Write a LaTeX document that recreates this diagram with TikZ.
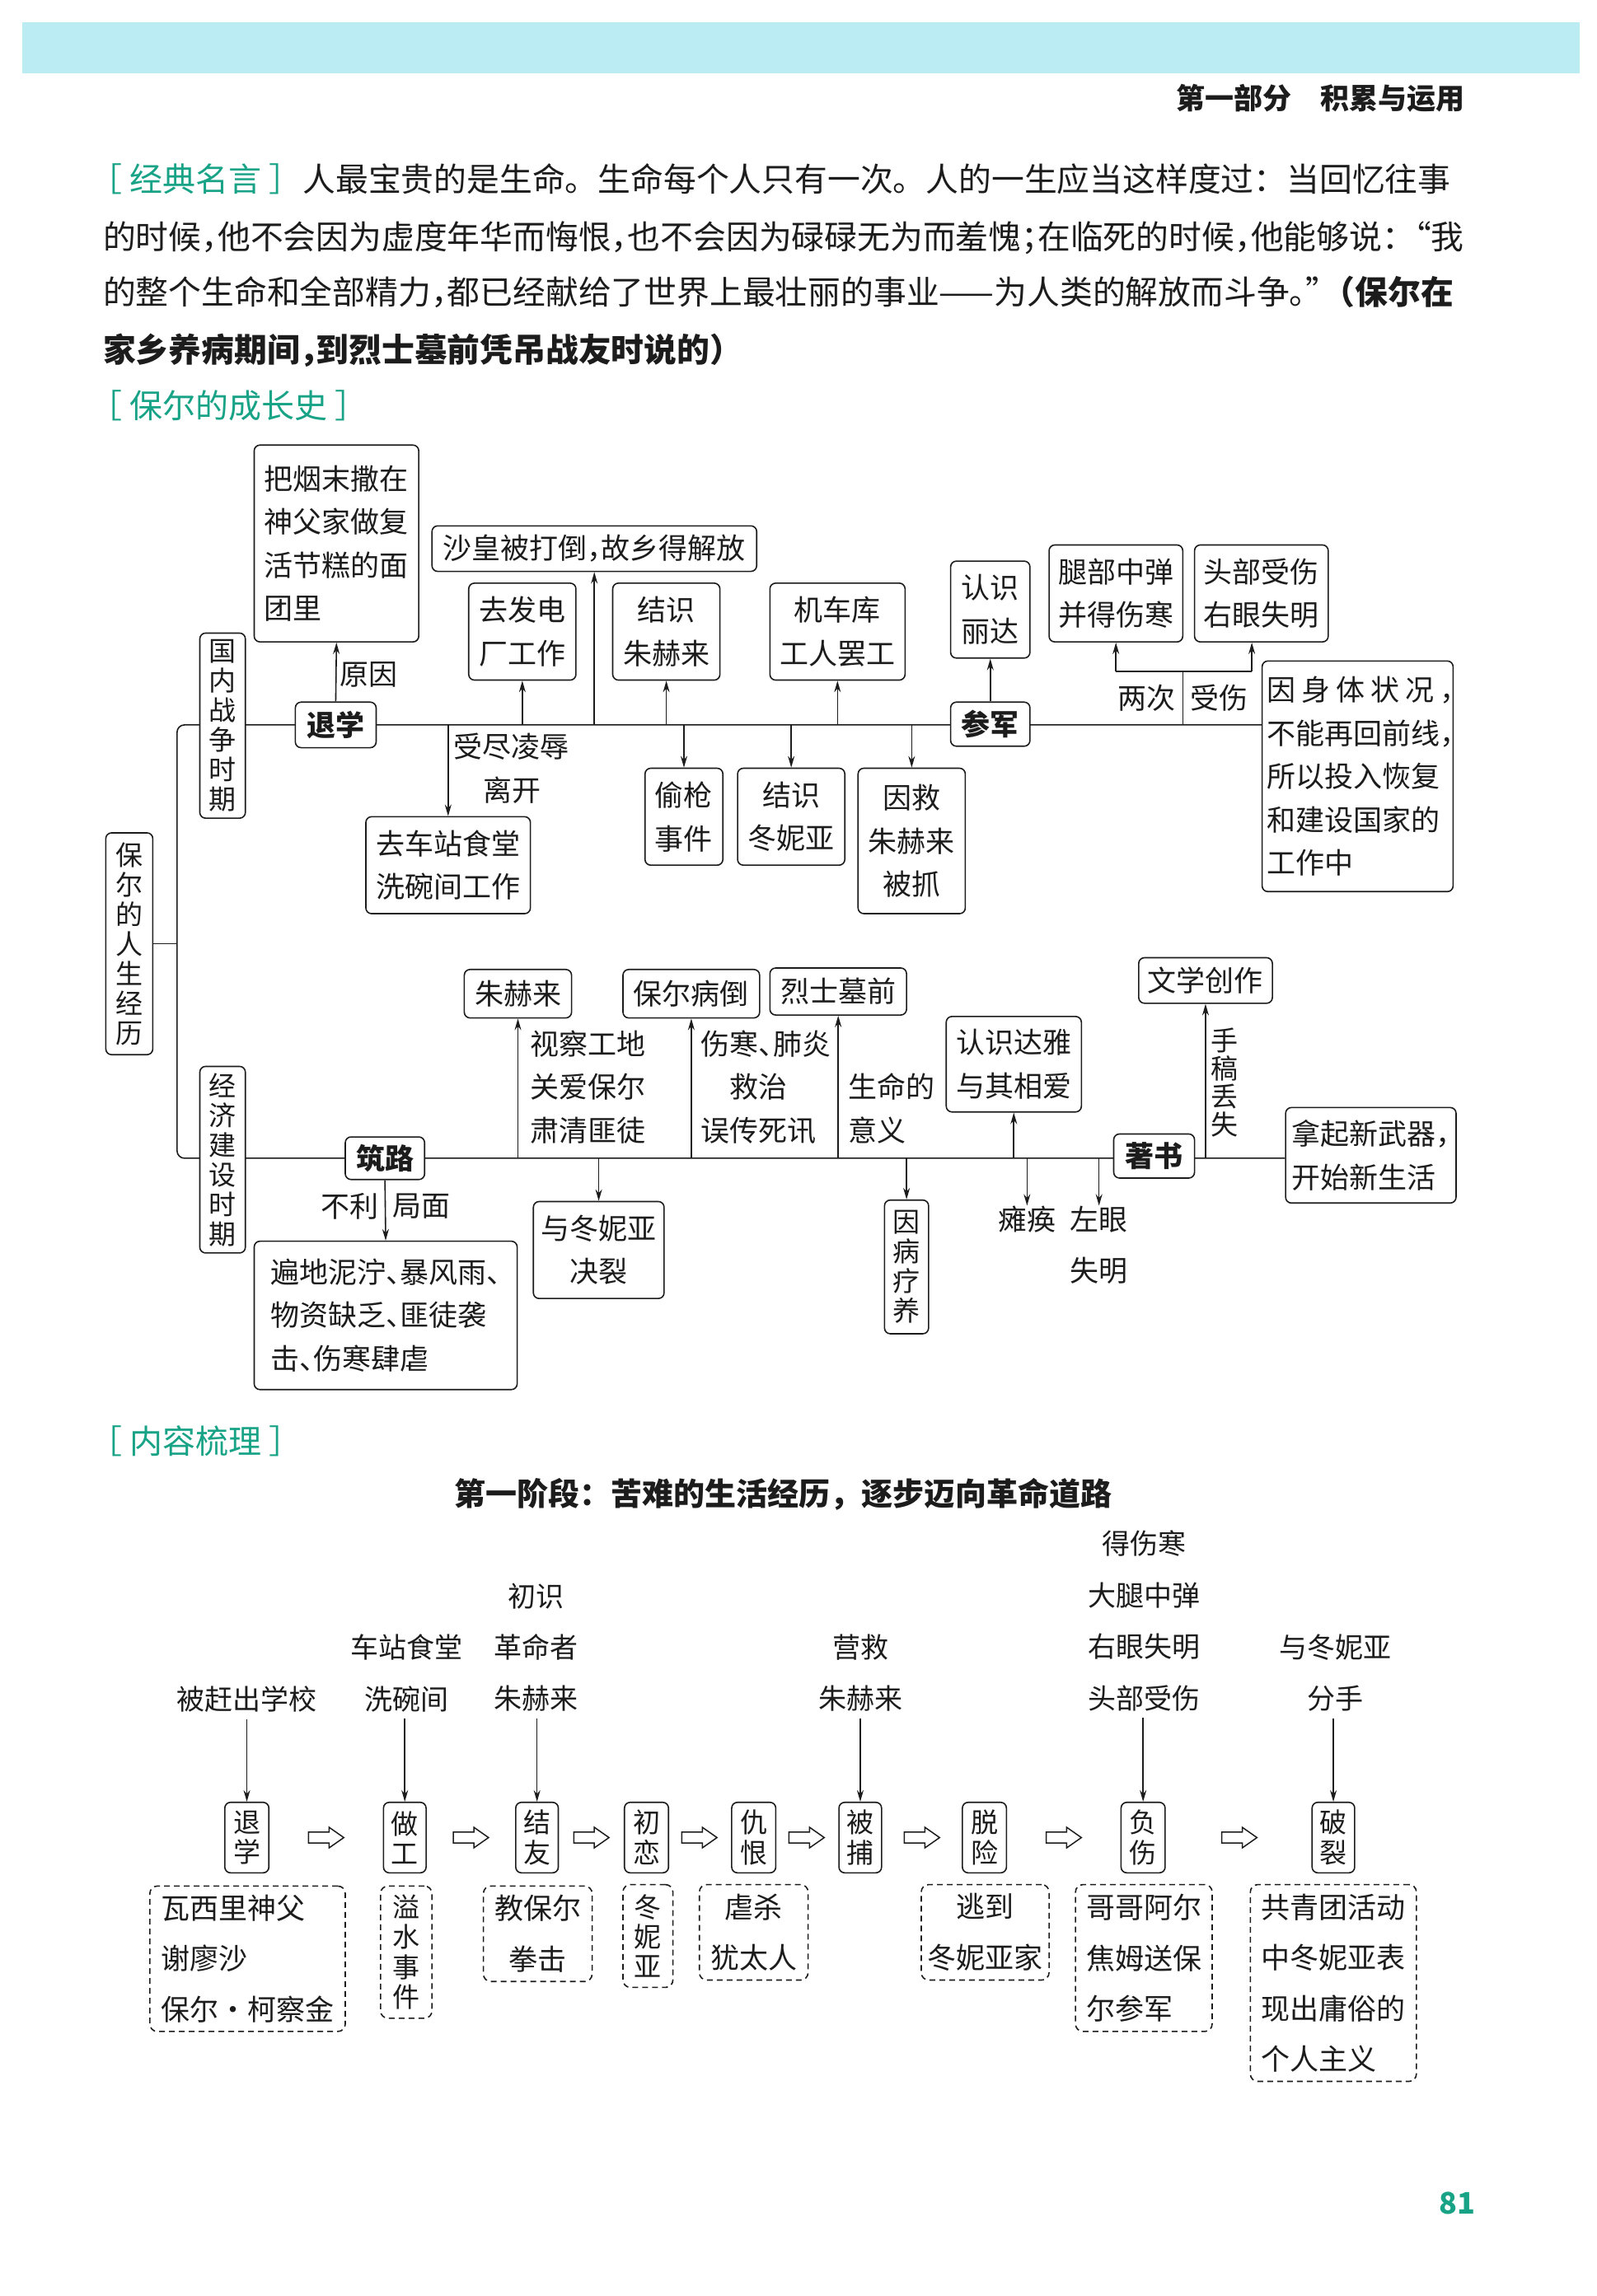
\documentclass[tikz,border=0pt]{standalone}
\usepackage{fontspec}
\setmainfont{Noto Sans CJK SC}
\usetikzlibrary{arrows.meta,backgrounds}
\definecolor{tealc}{RGB}{24,163,135}
\definecolor{band}{RGB}{188,236,243}
\definecolor{ink}{RGB}{28,28,28}
\newcommand\fs[2]{\fontsize{#1pt}{#2pt}\selectfont}
\newcommand\hcm[1][.5em]{\makebox[#1][l]{，}}
\newcommand\hdn{\makebox[.5em][l]{、}}
\newcommand\hl[1]{\makebox[.5em][l]{#1}}
\newcommand\BX[7]{\node[#1,minimum width={(#5-#3)*1.783pt},minimum height={(#6-#4)*1.783pt}] (#2) at ({(#3+#5)/2},{(#4+#6)/2}) {#7};}
\begin{document}
\begin{tikzpicture}[x=1.783pt,y=-1.783pt,
 ln/.style={draw=ink,line width=1.6pt},
 arr/.style={ln,-{Stealth[length=14pt,width=8pt]}},
 bx/.style={draw=ink,fill=white,line width=1.6pt,rounded corners=7pt,inner sep=0pt,align=center,text=ink,font=\fs{35}{52.6}},
 bxl/.style={bx,align=left},
 bb/.style={bx,font=\bfseries\fs{35}{40}},
 vt/.style={bx,font=\fs{33}{36}},
 vb/.style={bx,font=\fs{33}{36.7}},
 db/.style={draw=ink,fill=white,line width=1.6pt,dash pattern=on 7pt off 5pt,rounded corners=9pt,inner sep=0pt,align=center,text=ink,font=\fs{35}{61.5}},
 dbl/.style={db,align=left},
 dbv/.style={db,font=\fs{33}{36.4}},
 lb/.style={inner sep=0pt,text=ink,font=\fs{35}{52.6}},
 tl/.style={inner sep=0pt,text=ink,align=center,font=\fs{34}{62.4}},
 para/.style={inner sep=0pt,anchor=base west,text=ink},
 hol/.style={draw=ink,fill=white,line width=1.5pt,line join=miter}]
\useasboundingbox (0,0) rectangle (1086.9,1563.1);
\begin{pgfonlayer}{background}
\fill[white] (0,0) rectangle (1086.9,1563.1);
\end{pgfonlayer}
% header
\fill[band] (15,15) rectangle (1075,50);
\node[inner sep=0pt,anchor=base east,font=\bfseries\fs{35}{40},text=ink] (hdr) at (997,74.5) {第一部分\hspace{1em}积累与运用};
% quote paragraph
\node[para,font=\fs{40}{48},text=tealc] (t1) at (61,130.5) {［\kern.22em 经典名言\kern.22em］};
\node[para,font=\fs{39.8}{48}] (p1) at (206,130.5) {人最宝贵的是生命。生命每个人只有一次。人的一生应当这样度过：当回忆往事};
\node[para,font=\fs{39.8}{48}] (p2) at (70,169.5) {的时候\hl{，}他不会因为虚度年华而悔恨\hl{，}也不会因为碌碌无为而羞愧\hl{；}在临死的时候\hl{，}他能够说\hl{：}“我};
\node[para,font=\fs{39.8}{48}] (p3) at (70,207.5) {的整个生命和全部精力\hl{，}都已经献给了世界上最壮丽的事业——为人类的解放而斗争\hl{。}\hl{”}\textbf{（保尔在}};
\node[para,font=\bfseries\fs{39.8}{48}] (p4) at (70,246.5) {家乡养病期间\hl{，}到烈士墓前凭吊战友时说的）};
\node[para,font=\fs{40}{48},text=tealc] (t2) at (61,284.5) {［\kern.22em 保尔的成长史\kern.22em］};
% ---------- tree ----------
\BX{vt}{root}{72}{567}{104}{718}{保\\尔\\的\\人\\生\\经\\历}
\BX{vt}{gn}{136}{431}{167}{557}{国\\内\\战\\争\\时\\期}
\BX{vt}{jj}{136}{726}{167}{853}{经\\济\\建\\设\\时\\期}
\BX{bb}{tx}{201}{478}{256}{509}{退学}
\BX{bb}{cj}{647}{478}{701}{508}{参军}
\BX{bb}{zl}{235}{774}{289}{803}{筑路}
\BX{bb}{zsh}{758}{772}{813}{802}{著书}
\BX{bxl}{yan}{173}{303}{285}{437}{把烟末撒在\\神父家做复\\活节糕的面\\团里}
\BX{bx}{sh}{294}{358}{515}{389}{沙皇被打倒\hcm 故乡得解放}
\BX{bx}{fd}{319}{397}{392}{463}{去发电\\厂工作}
\BX{bx}{zs}{417}{397}{490}{463}{结识\\朱赫来}
\BX{bx}{jc}{524}{397}{616}{463}{机车库\\工人罢工}
\BX{bx}{ld}{647}{382}{701}{448}{认识\\丽达}
\BX{bx}{tb}{714}{371}{805}{437}{腿部中弹\\并得伤寒}
\BX{bx}{ts}{813}{371}{904}{437}{头部受伤\\右眼失明}
\BX{bxl}{ys}{859}{450}{989}{607}{\makebox[6.3em][s]{因\hfill 身\hfill 体\hfill 状\hfill 况\hfill\hcm[.3em]}\\不能再回前线\hcm[.3em]\\所以投入恢复\\和建设国家的\\工作中}
\BX{bx}{tq}{439}{523}{492}{589}{偷枪\\事件}
\BX{bx}{jd}{502}{523}{575}{589}{结识\\冬妮亚}
\BX{bx}{jz}{584}{523}{657}{622}{因救\\朱赫来\\被抓}
\BX{bx}{qc}{249}{556}{361}{622}{去车站食堂\\洗碗间工作}
\BX{bx}{zh}{316}{660}{389}{693}{朱赫来}
\BX{bx}{bd}{424}{660}{517}{693}{保尔病倒}
\BX{bx}{ls}{524}{659}{617}{691}{烈士墓前}
\BX{bx}{dy}{644}{692}{736}{757}{认识达雅\\与其相爱}
\BX{bx}{wx}{775}{652}{866}{683}{文学创作}
\BX{bxl}{nq}{875}{754}{991}{819}{拿起新武器\hcm\\开始新生活}
\BX{bx}{jl}{363}{818}{452}{884}{与冬妮亚\\决裂}
\BX{vt}{yb}{602}{817}{632}{908}{因\\病\\疗\\养}
\BX{bxl}{bdn}{173}{845}{352}{946}{遍地泥泞\hdn 暴风雨\hdn\\物资缺乏\hdn 匪徒袭\\击\hdn 伤寒肆虐}
% labels
\node[lb] (ly) at (251,459) {原因};
\node[lb] (lsj) at (348,508) {受尽凌辱};
\node[lb] (llk) at (348.5,538) {离开};
\node[lb] (lrc) at (780.5,475) {两次};
\node[lb] (lss) at (830,475) {受伤};
\node[lb,anchor=west,align=left] (lsc) at (361,740) {视察工地\\关爱保尔\\肃清匪徒};
\node[lb,anchor=west,align=left] (lsh) at (477,740) {伤寒\hdn 肺炎\\\hspace*{1em}救治\\误传死讯};
\node[lb,anchor=west,align=left] (lsm) at (577,754.5) {生命的\\意义};
\node[lb] (lbl) at (238,821) {不利};
\node[lb] (ljm) at (287,821) {局面};
\node[lb] (ltt) at (699,830) {瘫痪};
\node[lb,align=center,font=\fs{35}{62.4}] (lzy) at (748,847.5) {左眼\\失明};
\node[lb,align=center,font=\fs{33}{34}] (lsg) at (833.5,737) {手\\稿\\丢\\失};
% main lines
\begin{pgfonlayer}{background}
\coordinate (brk) at (120.5,642.5);
\draw[ln] (root.east) -- (brk);
\draw[ln,rounded corners=9pt] (ys.west |- tx) -- (brk |- tx) -- (brk |- zl) -- (nq.west |- zl);
\end{pgfonlayer}
% upper arrows
\draw[arr] (tx.north) -- (yan.south);
\draw[arr] (sh.south |- tx) -- (sh.south);
\draw[arr] (fd.south |- tx) -- (fd.south);
\draw[arr] (zs.south |- tx) -- (zs.south);
\draw[arr] (jc.south |- tx) -- (jc.south);
\draw[arr] (cj.north) -- (ld.south);
\draw[arr] (qc.north |- tx) -- (qc.north);
\draw[arr] (tq.north |- tx) -- (tq.north);
\draw[arr] (jd.north |- tx) -- (jd.north);
\draw[arr] (jz.north |- tx) -- (jz.north);
\coordinate (sj) at (805,457);
\coordinate (sjr) at (852,457);
\draw[ln] (sj |- tx) -- (sj);
\draw[ln] (tb.south |- sj) -- (sjr);
\draw[arr] (tb.south |- sj) -- (tb.south);
\draw[arr] (sjr) -- (sjr |- ts.south);
% lower arrows
\draw[arr] (zh.south |- zl) -- (zh.south);
\draw[arr] (bd.south |- zl) -- (bd.south);
\draw[arr] (ls.south |- zl) -- (ls.south);
\draw[arr] (dy.south |- zl) -- (dy.south);
\draw[arr] (wx.south |- zl) -- (wx.south);
\draw[arr] (jl.north |- zl) -- (jl.north);
\draw[arr] (yb.north |- zl) -- (yb.north);
\draw[arr] (ltt.north |- zl) -- (ltt.north);
\draw[arr] (lzy.north |- zl) -- (lzy.north);
\draw[arr] (zl.south) -- (bdn.north);
% ---------- bottom section ----------
\node[para,font=\fs{40}{48},text=tealc] (t3) at (61,989.5) {［\kern.22em 内容梳理\kern.22em］};
\node[inner sep=0pt,anchor=base,font=\bfseries\fs{38}{40},text=ink] (t4) at (533,1025) {第一阶段：苦难的生活经历，逐步迈向革命道路};
\node[tl] (a1) at (168,1157) {被赶出学校};
\node[tl] (a2) at (277,1139) {车站食堂\\洗碗间};
\node[tl] (a3) at (365,1121.5) {初识\\革命者\\朱赫来};
\node[tl] (a4) at (586,1139) {营救\\朱赫来};
\node[tl] (a5) at (779,1103.5) {得伤寒\\大腿中弹\\右眼失明\\头部受伤};
\node[tl] (a6) at (908.6,1139) {与冬妮亚\\分手};
\BX{vb}{b1}{153}{1227}{183}{1275}{退\\学}
\BX{vb}{b2}{261}{1227}{290}{1275}{做\\工}
\BX{vb}{b3}{351}{1227}{380}{1275}{结\\友}
\BX{vb}{b4}{425}{1227}{455}{1275}{初\\恋}
\BX{vb}{b5}{498}{1227}{528}{1275}{仇\\恨}
\BX{vb}{b6}{571}{1227}{600}{1275}{被\\捕}
\BX{vb}{b7}{655}{1227}{685}{1275}{脱\\险}
\BX{vb}{b8}{763}{1227}{793}{1275}{负\\伤}
\BX{vb}{b9}{893}{1227}{922}{1275}{破\\裂}
\draw[arr,shorten <=8pt] (b1.north |- a1.south) -- (b1.north);
\draw[arr,shorten <=8pt] (b2.north |- a2.south) -- (b2.north);
\draw[arr,shorten <=8pt] (b3.north |- a3.south) -- (b3.north);
\draw[arr,shorten <=8pt] (b6.north |- a4.south) -- (b6.north);
\draw[arr,shorten <=8pt] (b8.north |- a5.south) -- (b8.north);
\draw[arr,shorten <=8pt] (b9.north |- a6.south) -- (b9.north);
\coordinate (h1) at (222,1251);
\coordinate (h2) at (320.5,1251);
\coordinate (h3) at (402.5,1251);
\coordinate (h4) at (476,1251);
\coordinate (h5) at (549,1251);
\coordinate (h6) at (627.5,1251);
\coordinate (h7) at (724,1251);
\coordinate (h8) at (843.5,1251);
\foreach \p in {h1,h2,h3,h4,h5,h6,h7,h8}
  \draw[hol] (\p) ++(-12,-3.75) -- ++(14,0) -- ++(0,-3.25) -- ++(10,7) -- ++(-10,7) -- ++(0,-3.25) -- ++(-14,0) -- cycle;
\BX{dbl}{d1}{102}{1284}{235}{1383}{瓦西里神父\\谢廖沙\\保尔\makebox[1em]{•}柯察金}
\BX{dbv}{d2}{259}{1284}{294}{1374}{溢\\水\\事\\件}
\BX{db}{d3}{329}{1284}{403}{1349}{教保尔\\拳击}
\BX{dbv}{d4}{424}{1283}{458}{1353}{冬\\妮\\亚}
\BX{db}{d5}{476}{1283}{550}{1348}{虐杀\\犹太人}
\BX{db}{d6}{627}{1283}{714}{1348}{逃到\\冬妮亚家}
\BX{dbl}{d7}{732}{1283}{825}{1383}{哥哥阿尔\\焦姆送保\\尔参军}
\BX{dbl}{d8}{851}{1283}{964}{1417}{共青团活动\\中冬妮亚表\\现出庸俗的\\个人主义}
% page number
\node[inner sep=0pt,font=\bfseries\fs{36}{40},text=tealc] (pn) at (992,1500) {81};
\end{tikzpicture}
\end{document}
